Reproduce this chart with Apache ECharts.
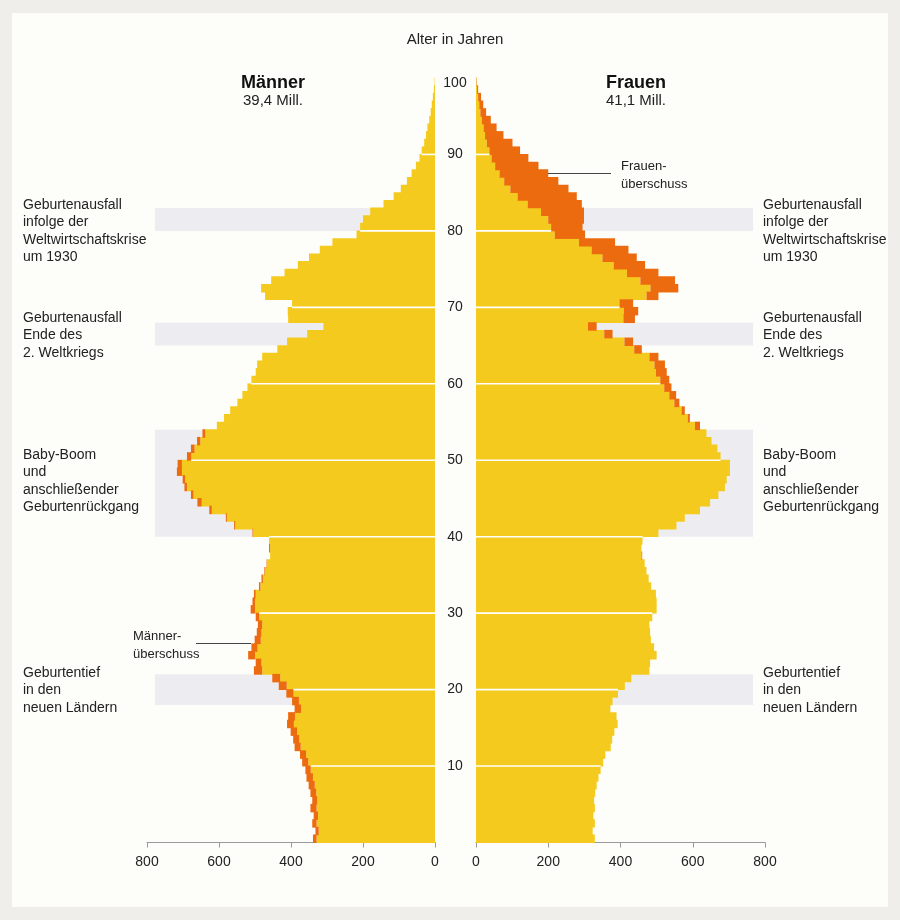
<!DOCTYPE html>
<html><head><meta charset="utf-8">
<script src="https://cdn.jsdelivr.net/npm/echarts@6/dist/echarts.min.js"></script>
<style>html,body{margin:0;padding:0;background:#EFEEEA}#c{width:900px;height:920px}</style>
</head><body><div id="c"></div><script>
// ---- data (thousands of persons by single year of age 0..99) ----
const ageCategories = Array.from({length: 100}, (_, i) => String(i));
const ageTickLabels = [10, 20, 30, 40, 50, 60, 70, 80, 90, 100];
const xTickLabels = [0, 200, 400, 600, 800];
const men = [
  339, 332, 341, 337, 346, 341, 346, 351, 357, 360,
  369, 375, 390, 394, 401, 411, 408, 390, 397, 413,
  434, 452, 503, 498, 519, 510, 501, 495, 492, 498,
  512, 507, 503, 489, 482, 474, 468, 458, 461, 461,
  507, 558, 581, 627, 660, 678, 696, 701, 717, 715,
  689, 678, 661, 646, 606, 586, 569, 549, 535, 521,
  510, 498, 494, 480, 438, 411, 355, 310, 408, 409,
  397, 472, 483, 455, 418, 381, 350, 320, 285, 218,
  208, 200, 180, 143, 115, 95, 78, 65, 53, 43,
  37, 30, 25, 21, 16, 12, 9, 6, 3, 1
];
const women = [
  329, 323, 329, 325, 329, 327, 330, 334, 339, 345,
  352, 358, 373, 377, 383, 392, 389, 372, 378, 393,
  412, 430, 480, 482, 500, 493, 484, 482, 480, 488,
  500, 500, 498, 485, 478, 472, 467, 460, 458, 461,
  505, 555, 578, 620, 648, 671, 689, 694, 703, 703,
  677, 668, 652, 638, 620, 592, 578, 563, 554, 541,
  535, 528, 523, 505, 459, 435, 378, 334, 440, 449,
  435, 505, 560, 551, 505, 468, 445, 422, 385, 302,
  295, 299, 299, 293, 279, 256, 228, 200, 173, 145,
  122, 101, 76, 57, 41, 28, 20, 14, 6, 2
];
const bandRanges = [[18, 22], [40, 54], [65, 68], [80, 83]];
const gridAges = [10, 20, 30, 40, 50, 60, 70, 80, 90];

// ---- derived tables ----
const common = men.map((m, i) => Math.min(m, women[i]));
const commonItems = common.map((c, i) => [0, c, i]);
const menSurplusItems = men.map((m, i) => [women[i], m, i]).filter(d => d[1] > d[0]);
const womenSurplusItems = women.map((w, i) => [men[i], w, i]).filter(d => d[1] > d[0]);
const gridLen = gridAges.map(a => [Math.min(common[a - 1], common[a]), a]);

const YELLOW = '#F4CA1E', ORANGE = '#EC6B0E', BAND = '#EDEDF1', TXT = '#222';
const FONT = '"Liberation Sans", Arial, sans-serif';

const chart = echarts.init(document.getElementById('c'), null, {renderer: 'canvas'});

function xAxisDef(gi, inverse) {
  return {
    gridIndex: gi, type: 'value', min: 0, max: 800, interval: 200, inverse: inverse,
    offset: 2,
    axisLine: {show: true, lineStyle: {color: '#9a9a9a', width: 1}},
    axisTick: {show: true, length: 5, lineStyle: {color: '#9a9a9a'}},
    axisLabel: {color: TXT, fontSize: 14, fontFamily: FONT, margin: 11,
      formatter: v => (xTickLabels.includes(v) ? String(v) : '')},
    splitLine: {show: false}
  };
}
function barSeries(name, xi, yi, items, color) {
  return {
    name, type: 'custom', xAxisIndex: xi, yAxisIndex: yi, data: items,
    encode: {x: [0, 1], y: 2}, z: 3, silent: true,
    renderItem: (params, api) => {
      const a = api.coord([api.value(0), api.value(2)]);
      const b = api.coord([api.value(1), api.value(2)]);
      const h = api.size([0, 1])[1];
      return {
        type: 'rect',
        shape: {x: Math.min(a[0], b[0]), y: a[1] - h / 2 - 0.4,
                width: Math.abs(b[0] - a[0]), height: h + 0.8},
        style: {fill: color}
      };
    }
  };
}
function bandSeries(xi, yi, far) {
  return {
    type: 'line', xAxisIndex: xi, yAxisIndex: yi, data: [], z: 1, silent: true,
    markArea: {silent: true, itemStyle: {color: BAND},
      data: bandRanges.map(r => [{xAxis: far, yAxis: r[0]}, {xAxis: 0, yAxis: r[1]}])}
  };
}
function gridLineSeries(xi, yi) {
  return {
    type: 'custom', xAxisIndex: xi, yAxisIndex: yi, data: gridLen, z: 5, silent: true,
    renderItem: (params, api) => {
      const p0 = api.coord([0, api.value(1)]);
      const p1 = api.coord([api.value(0), api.value(1)]);
      return {type: 'line', shape: {x1: p0[0], y1: p0[1], x2: p1[0], y2: p1[1]},
        style: {stroke: '#FFFFFF', lineWidth: 1.6}};
    }
  };
}

const annLeft = [
  {y: 196, t: 'Geburtenausfall\ninfolge der\nWeltwirtschaftskrise\num 1930'},
  {y: 309, t: 'Geburtenausfall\nEnde des\n2. Weltkriegs'},
  {y: 446, t: 'Baby-Boom\nund\nanschließender\nGeburtenrückgang'},
  {y: 664, t: 'Geburtentief\nin den\nneuen Ländern'}
];
const graphics = [
  {type: 'rect', z: -10, shape: {x: 12, y: 13, width: 876, height: 894}, style: {fill: '#FDFDFA'}},
  {type: 'text', x: 455, y: 40, style: {text: 'Alter in Jahren', font: '15px ' + FONT, fill: TXT, textAlign: 'center', textVerticalAlign: 'middle'}},
  {type: 'text', x: 273, y: 83, style: {text: 'Männer', font: 'bold 18px ' + FONT, fill: '#111', textAlign: 'center', textVerticalAlign: 'middle'}},
  {type: 'text', x: 273, y: 101, style: {text: '39,4 Mill.', font: '15px ' + FONT, fill: TXT, textAlign: 'center', textVerticalAlign: 'middle'}},
  {type: 'text', x: 636, y: 83, style: {text: 'Frauen', font: 'bold 18px ' + FONT, fill: '#111', textAlign: 'center', textVerticalAlign: 'middle'}},
  {type: 'text', x: 636, y: 101, style: {text: '41,1 Mill.', font: '15px ' + FONT, fill: TXT, textAlign: 'center', textVerticalAlign: 'middle'}},
  {type: 'text', x: 621, y: 157, style: {text: 'Frauen-\nüberschuss', font: '13px ' + FONT, fill: TXT, lineHeight: 18, textVerticalAlign: 'top'}},
  {type: 'line', shape: {x1: 548, y1: 173.5, x2: 611, y2: 173.5}, style: {stroke: '#444', lineWidth: 1}, z: 10},
  {type: 'text', x: 133, y: 627, style: {text: 'Männer-\nüberschuss', font: '13px ' + FONT, fill: TXT, lineHeight: 18, textVerticalAlign: 'top'}},
  {type: 'line', shape: {x1: 196, y1: 643.5, x2: 251, y2: 643.5}, style: {stroke: '#444', lineWidth: 1}, z: 10}
];
annLeft.forEach(a => {
  graphics.push({type: 'text', x: 23, y: a.y, style: {text: a.t, font: '14px ' + FONT, fill: TXT, lineHeight: 17.5, textVerticalAlign: 'top'}});
  graphics.push({type: 'text', x: 763, y: a.y, style: {text: a.t, font: '14px ' + FONT, fill: TXT, lineHeight: 17.5, textVerticalAlign: 'top'}});
});

chart.setOption({
  animation: false,
  backgroundColor: '#EFEEEA',
  textStyle: {fontFamily: FONT},
  grid: [
    {left: 147, top: 78, width: 288, height: 764.5},
    {left: 476, top: 78, width: 289, height: 764.5}
  ],
  xAxis: [xAxisDef(0, true), xAxisDef(1, false)],
  yAxis: [
    {gridIndex: 0, type: 'category', data: ageCategories, show: false},
    {gridIndex: 0, type: 'value', min: 0, max: 100, show: false},
    {gridIndex: 1, type: 'category', data: ageCategories, show: false},
    {gridIndex: 1, type: 'value', min: 0, max: 100, interval: 10, position: 'left',
      axisLine: {show: false}, axisTick: {show: false}, splitLine: {show: false},
      axisLabel: {show: true, align: 'center', margin: 21, color: TXT, fontSize: 14, fontFamily: FONT,
        formatter: v => (v === 100 ? '{top|100}' : (ageTickLabels.includes(v) ? String(v) : '')),
        rich: {top: {padding: [10, 0, 0, 0], fontSize: 14, fontFamily: FONT, color: TXT}}}}
  ],
  series: [
    bandSeries(0, 1, 778),
    bandSeries(1, 3, 767),
    barSeries('Männer', 0, 0, commonItems, YELLOW),
    barSeries('Männerüberschuss', 0, 0, menSurplusItems, ORANGE),
    barSeries('Frauen', 1, 2, commonItems, YELLOW),
    barSeries('Frauenüberschuss', 1, 2, womenSurplusItems, ORANGE),
    gridLineSeries(0, 1),
    gridLineSeries(1, 3)
  ],
  graphic: graphics
});
</script></body></html>
